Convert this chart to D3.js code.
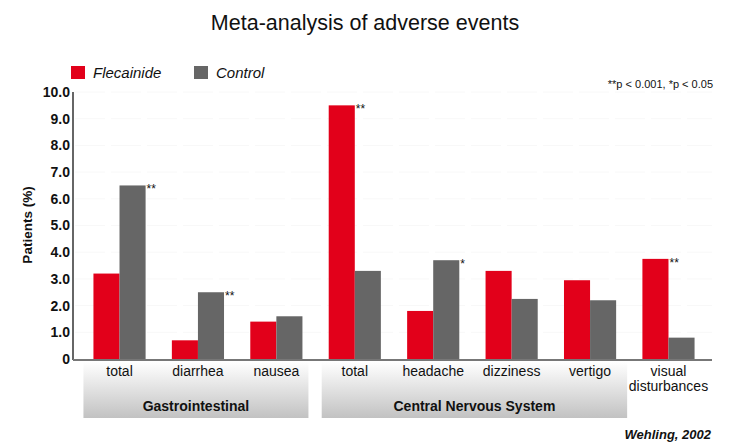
<!DOCTYPE html>
<html><head><meta charset="utf-8">
<script src="https://cdn.jsdelivr.net/npm/d3@7"></script>
<style>body{margin:0;background:#fff;}svg{display:block;font-family:"Liberation Sans",Arial,sans-serif;}</style>
</head><body><svg id="c" width="731" height="443"></svg>
<script>
const categories = ["total","diarrhea","nausea","total","headache","dizziness","vertigo","visual disturbances"];
const flecainide = [3.2, 0.7, 1.4, 9.5, 1.8, 3.3, 2.95, 3.75];
const control    = [6.5, 2.5, 1.6, 3.3, 3.7, 2.25, 2.2, 0.8];
const flecSig    = ["", "", "", "**", "", "", "", "**"];
const ctrlSig    = ["**", "**", "", "", "*", "", "", ""];
const yTicks = [0,1,2,3,4,5,6,7,8,9,10];
const groups = [{name:"Gastrointestinal", from:0, to:2},{name:"Central Nervous System", from:3, to:6}];
const seriesNames = ["Flecainide","Control"];
const colors = ["#e2001a","#666666"];

const svg = d3.select("#c");
const x = d3.scaleBand().domain(d3.range(categories.length)).range([80.5,707.5]).paddingInner(0.335).paddingOuter(0.165);
const xs = d3.scaleBand().domain([0,1]).range([0,x.bandwidth()]);
const y = d3.scaleLinear().domain([0,10]).range([359,92]);

const defs = svg.append("defs");
const g = defs.append("linearGradient").attr("id","gb").attr("x1",0).attr("y1",0).attr("x2",0).attr("y2",1);
g.append("stop").attr("offset","0%").attr("stop-color","#ffffff");
g.append("stop").attr("offset","100%").attr("stop-color","#c2c2c2");

// title
svg.append("text").attr("x",365).attr("y",30).attr("text-anchor","middle").attr("font-size",21.5).attr("fill","#111").text("Meta-analysis of adverse events");

// legend
seriesNames.forEach((n,i)=>{
  const lx = [71,194][i];
  svg.append("rect").attr("x",lx).attr("y",66).attr("width",14).attr("height",13).attr("fill",colors[i]);
  svg.append("text").attr("x",lx+22).attr("y",78).attr("font-size",15).attr("font-style","italic").attr("fill","#111").text(n);
});
svg.append("text").attr("x",713).attr("y",88).attr("text-anchor","end").attr("font-size",11).attr("fill","#111").text("**p < 0.001, *p < 0.05");

// gridlines
svg.append("g").selectAll("line").data(yTicks.slice(1)).join("line")
  .attr("x1",75).attr("x2",712).attr("y1",d=>y(d)).attr("y2",d=>y(d))
  .attr("stroke","#f8f8f8").attr("stroke-dasharray","30,6");

// group boxes
groups.forEach(gr=>{
  const x0 = x(gr.from)-10, x1 = x(gr.to)+x.bandwidth()+(gr.to===2?6:11);
  const xa = gr.from===3 ? x0+3 : x0;
  svg.append("rect").attr("x",xa).attr("y",362).attr("width",x1-xa).attr("height",56).attr("fill","url(#gb)");
  svg.append("text").attr("x",(xa+x1)/2).attr("y",411).attr("text-anchor","middle").attr("font-size",14).attr("font-weight","bold").attr("fill","#111").text(gr.name);
});

// bars
const bars = svg.append("g");
categories.forEach((c,i)=>{
  [flecainide[i],control[i]].forEach((v,s)=>{
    bars.append("rect").attr("x",x(i)+xs(s)).attr("y",y(v)).attr("width",xs.bandwidth()).attr("height",y(0)-y(v)).attr("fill",colors[s]);
    const sig = [flecSig,ctrlSig][s][i];
    if(sig) svg.append("text").attr("x",x(i)+xs(s)+xs.bandwidth()+1).attr("y",y(v)+8).attr("font-size",12).attr("fill","#111").text(sig);
  });
});

// y axis
const ya = svg.append("g").attr("transform","translate(73,0)")
  .call(d3.axisLeft(y).tickValues(yTicks).tickSize(0).tickPadding(3).tickFormat(d=>d===0?"0":d3.format(".1f")(d)));
ya.select(".domain").attr("stroke","#666").attr("stroke-width",2).attr("d","M0,"+(y(10))+"V"+(y(0)+1));
ya.selectAll("text").attr("font-size",14).attr("font-weight","bold").attr("fill","#111").attr("font-family","Liberation Sans, Arial, sans-serif");
svg.append("line").attr("x1",73).attr("x2",712).attr("y1",y(0)+1).attr("y2",y(0)+1).attr("stroke","#777").attr("stroke-width",2);

svg.append("text").attr("transform","translate(32,225) rotate(-90)").attr("text-anchor","middle").attr("font-size",13.5).attr("font-weight","bold").attr("fill","#111").text("Patients (%)");

// category labels
categories.forEach((c,i)=>{
  const cx = x(i)+x.bandwidth()/2;
  const words = c==="visual disturbances" ? ["visual","disturbances"] : [c];
  words.forEach((w,k)=>{
    svg.append("text").attr("x",cx).attr("y",376+k*15).attr("text-anchor","middle").attr("font-size",14).attr("fill","#111").text(w);
  });
});

svg.append("text").attr("x",711).attr("y",439).attr("text-anchor","end").attr("font-size",13).attr("font-weight","bold").attr("font-style","italic").attr("fill","#111").text("Wehling, 2002");
</script></body></html>
